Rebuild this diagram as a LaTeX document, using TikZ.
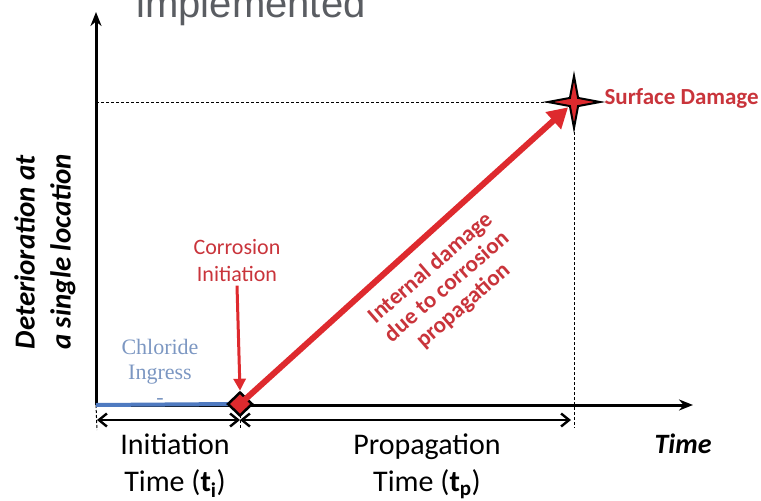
\documentclass[tikz,border=0pt]{standalone}
\usepackage{fontspec}
\setmainfont{Carlito}
\newfontfamily\chlfont{Liberation Serif}
\newfontfamily\topfont{Liberation Sans}
\usepackage{tikz}
\usetikzlibrary{shapes.geometric,arrows.meta,positioning,calc}
\usepackage{xcolor}
\definecolor{dmgred}{HTML}{DE2A2E}
\definecolor{txtred}{HTML}{C9343B}
\definecolor{chlblue}{HTML}{4F7AC0}
\definecolor{chltxt}{HTML}{7C97C2}
\definecolor{topgray}{HTML}{5A5D62}

\begin{document}
\begin{tikzpicture}[
    x=1pt, y=-1pt,
    axis/.style={line width=3pt, -{Stealth[length=14pt,width=11pt]}},
    dimarrow/.style={line width=2.4pt, {Straight Barb[length=8pt,width=13pt]}-{Straight Barb[length=8pt,width=13pt]}},
    guide/.style={line width=1pt, dash pattern=on 3pt off 2pt},
    redlabel/.style={text=txtred, font=\fontsize{22}{27}\selectfont, align=center},
    timelabel/.style={font=\fontsize{30}{37}\selectfont, align=center}
]
\useasboundingbox (0,0) rectangle (761,501);

\coordinate (o) at (96,405);
\coordinate (ytop) at (96,12);
\coordinate (xend) at (693,405);
\coordinate (sdc) at (574,102);
\coordinate (d0) at (97,420);
\coordinate (d1) at (240,420);
\coordinate (d2) at (571,420);

\node[anchor=base west, text=topgray, font=\topfont\fontsize{40}{40}\selectfont] (impl) at (133,17) {implemented};

\draw[guide] (ytop |- sdc) -- (sdc);
\draw[guide] (sdc) -- (sdc |- 0,428);
\draw[guide] (o) -- (97,430);
\draw[guide] (240,410) -- (240,428);

\draw[axis] (o) -- (ytop);
\draw[axis] (o) -- (xend);
\draw[line width=4pt, chlblue] (o) -- (232,404);

\draw[dimarrow] (d0) -- (d1);
\draw[dimarrow] (d1) -- (d2);

\node[diamond, draw=black, line width=2.5pt, fill=dmgred, minimum width=25pt, minimum height=24pt, inner sep=0pt] (ci) at (240,404) {};
\draw[line width=6pt, dmgred, -{Triangle[length=20pt,width=22pt]}, shorten >=8pt] (ci.center) -- (sdc);
\node[star, star points=4, star point ratio=4.5, draw=black, line width=2pt, fill=dmgred, minimum size=52pt, inner sep=0pt] (sd) at (sdc) {};

\node[redlabel, font=\bfseries\fontsize{23}{27}\selectfont, anchor=west] (sdlab) at (601,98) {Surface Damage};
\node[redlabel] (cilab) at (237,261) {Corrosion\\Initiation};
\draw[line width=3pt, dmgred, -{Triangle[length=12pt,width=12pt]}] (cilab.south) -- (ci.north);
\node[redlabel, font=\bfseries\fontsize{23}{25}\selectfont, rotate=41] (idlab) at (447,287) {Internal damage\\due to corrosion\\propagation};

\node[text=chltxt, font=\chlfont\fontsize{22}{25}\selectfont, align=center] (chl) at (160,372) {Chloride\\Ingress\\{-}};

\node[timelabel] (tinit) at (175,466) {Initiation\\Time (\textbf{t\textsubscript{i}})};
\node[timelabel] (tprop) at (427,466) {Propagation\\Time (\textbf{t\textsubscript{p}})};
\node[font=\bfseries\itshape\fontsize{28}{30}\selectfont] (tlab) at (683,444) {Time};
\node[rotate=90, align=center, font=\bfseries\itshape\fontsize{29}{36}\selectfont] (ylab) at (45,252) {Deterioration at\\a single location};
\end{tikzpicture}
\end{document}
